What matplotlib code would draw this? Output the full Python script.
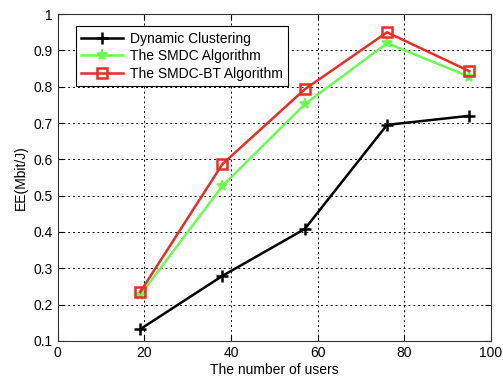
import matplotlib
matplotlib.use("Agg")
from matplotlib import pyplot as plt

users = [19, 38, 57, 76, 95]
dynamic_clustering = [0.132, 0.279, 0.408, 0.695, 0.72]
smdc = [0.226, 0.527, 0.752, 0.92, 0.828]
smdc_bt = [0.234, 0.587, 0.793, 0.95, 0.843]

plt.rcParams['font.family'] = ['Liberation Sans', 'DejaVu Sans']

fig = plt.figure(figsize=(5.03, 3.83), dpi=100)
ax = fig.add_axes([0.115, 0.11, 0.861, 0.853])

ax.plot(users, dynamic_clustering, color='black', lw=1.8, marker='+', ms=9, mew=1.8,
        label='Dynamic Clustering')
ax.plot(users, smdc, color='#66ff4d', lw=1.8, marker='*', ms=8, mew=1.2,
        label='The SMDC Algorithm')
ax.plot(users, smdc_bt, color='#ee2a24', lw=1.8, marker='s', ms=6.5, mew=1.8,
        mfc='none', label='The SMDC-BT Algorithm')

ax.set_xlim(0, 100)
ax.set_ylim(0.1, 1)
ax.set_xticks(range(0, 101, 20))
ax.set_yticks([i / 10 for i in range(1, 11)])
ax.set_yticklabels(['0.1', '0.2', '0.3', '0.4', '0.5', '0.6', '0.7', '0.8', '0.9', '1'])
ax.grid(True, color='black', linestyle=(0, (2, 3)), lw=0.7)
ax.tick_params(direction='in', labelsize=10, length=4, top=True, right=True)
for s in ax.spines.values():
    s.set_color('#333333')

ax.set_xlabel('The number of users', fontsize=10, labelpad=2)
ax.set_ylabel('EE(Mbit/J)', fontsize=10, labelpad=4)

leg = ax.legend(loc='upper left', bbox_to_anchor=(0.025, 0.985), fontsize=10,
                fancybox=False, framealpha=1, edgecolor='black',
                handlelength=3, borderpad=0.4, labelspacing=0.25, handletextpad=0.5)
leg.get_frame().set_linewidth(0.8)

fig.savefig('out.png', dpi=100)
